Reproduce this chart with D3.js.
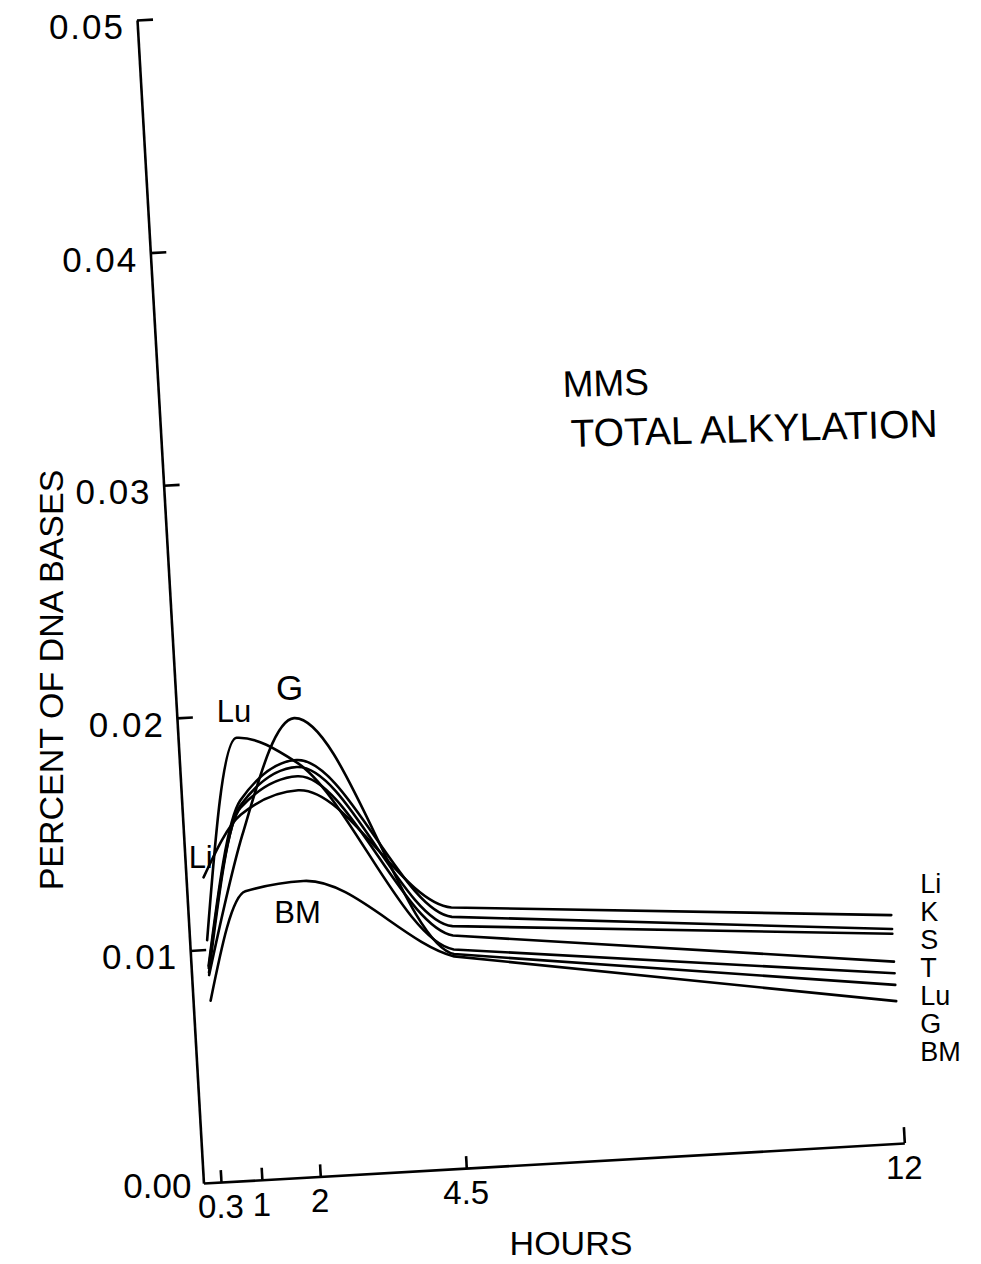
<!DOCTYPE html>
<html><head><meta charset="utf-8">
<script src="https://cdn.jsdelivr.net/npm/d3@7"></script>
<style>body{margin:0;background:#fff}svg{display:block}</style>
</head><body><svg id="c" width="981" height="1264"></svg>
<script>
// ---- data (percent of DNA bases vs hours) ----
const hours = [0.3, 1, 2, 4.5, 12];
const Li = [0.0131, 0.0157, 0.0166, 0.0112, 0.0098];
const K  = [0.0093, 0.0163, 0.0179, 0.0108, 0.0092];
const S  = [0.0090, 0.0161, 0.0176, 0.0104, 0.0090];
const T  = [0.0092, 0.0160, 0.0172, 0.0100, 0.0078];
const Lu = [0.0104, 0.0190, 0.0178, 0.0094, 0.0073];
const G  = [0.0089, 0.0148, 0.0197, 0.0092, 0.0068];
const BM = [0.0078, 0.0124, 0.0127, 0.0091, 0.0061];
const seriesNames = ["Li", "K", "S", "T", "Lu", "G", "BM"];
const seriesValues = [Li, K, S, T, Lu, G, BM];
const xTickValues = [0.3, 1, 2, 4.5, 12];
const xTickLabels = ["0.3", "1", "2", "4.5", "12"];
const yTickValues = [0, 0.01, 0.02, 0.03, 0.04, 0.05];
const yTickLabels = ["0.00", "0.01", "0.02", "0.03", "0.04", "0.05"];
const title1 = "MMS";
const title2 = "TOTAL ALKYLATION";
const xTitle = "HOURS";
const yTitle = "PERCENT OF DNA BASES";
// in-plot curve labels: [name, hours, value]
const curveLabels = [["Lu", 0.97, 0.0197], ["G", 1.94, 0.0205], ["Li", 0.26, 0.0135], ["BM", 1.86, 0.0109]];

// ---- layout ----
const W = 702, H = 1165;
const ang = 3.27 * Math.PI / 180;
const cs = Math.cos(ang), sn = Math.sin(ang);
const ox = 137, oy = 20;
const font = "'Liberation Sans', Arial, sans-serif";
function toScreen(px, py) { return [cs * px + sn * py + ox, -sn * px + cs * py + oy]; }

const svg = d3.select("#c");
svg.append("rect").attr("width", 981).attr("height", 1264).attr("fill", "#fff");

const x = d3.scaleLinear().domain([0, 12]).range([0, W]);
const y = d3.scaleLinear().domain([0, 0.05]).range([H, 0]);

const g = svg.append("g")
  .attr("transform", `matrix(${cs},${-sn},${sn},${cs},${ox},${oy})`);

// axes
const yAxis = d3.axisLeft(y).tickValues(yTickValues.filter(v => v > 0))
  .tickSize(-16).tickSizeOuter(0).tickFormat("");
const yg = g.append("g").call(yAxis);
const xAxis = d3.axisBottom(x).tickValues(xTickValues)
  .tickSize(-12).tickSizeOuter(0).tickFormat("");
const xg = g.append("g").attr("transform", `translate(0,${H})`).call(xAxis);
[yg, xg].forEach(a => {
  a.selectAll("path.domain").attr("stroke", "#000").attr("stroke-width", 2.6);
  a.selectAll(".tick line").attr("stroke", "#000").attr("stroke-width", 2.6);
});
xg.selectAll(".tick line").filter(d => d === 12).attr("y2", -16);

// curves: monotone smoothing through all samples, straight final leg to 12 h
const smooth = d3.line().x(d => x(d[0])).y(d => y(d[1])).curve(d3.curveMonotoneX);
function seriesPath(vals) {
  const pts = hours.map((h, i) => [h, vals[i]]);
  const segs = smooth(pts).split("C");
  segs.pop();
  const last = pts[pts.length - 1];
  return segs.join("C") + `L${x(last[0])},${y(last[1])}`;
}
g.selectAll("path.series").data(seriesValues).join("path")
  .attr("class", "series")
  .attr("d", seriesPath)
  .attr("fill", "none").attr("stroke", "#000").attr("stroke-width", 2.6)
  .attr("stroke-linejoin", "round").attr("stroke-linecap", "round");

// ---- text (upright, positioned via the rotated frame) ----
const txt = svg.append("g").attr("font-family", font).attr("fill", "#000");

yTickValues.forEach((v, i) => {
  const [sx, sy] = toScreen(0, y(v));
  txt.append("text").attr("x", sx - 12).attr("y", sy + (v === 0 ? 15 : 19))
    .attr("text-anchor", "end").attr("font-size", 35).attr("letter-spacing", v === 0 ? 0 : 2)
    .text(yTickLabels[i]);
});
xTickValues.forEach((v, i) => {
  const [sx, sy] = toScreen(x(v), H);
  txt.append("text").attr("x", sx).attr("y", sy + 36)
    .attr("text-anchor", "middle").attr("font-size", 33)
    .text(xTickLabels[i]);
});

// x title
txt.append("text").attr("x", 571).attr("y", 1255)
  .attr("text-anchor", "middle").attr("font-size", 34).text(xTitle);
// y title
txt.append("text").attr("transform", "translate(63,680) rotate(-90)")
  .attr("text-anchor", "middle").attr("font-size", 34).text(yTitle);

// chart title block
txt.append("text").attr("transform", "translate(563,397) rotate(-1.6)")
  .attr("font-size", 37).text(title1);
txt.append("text").attr("transform", "translate(571,447) rotate(-1.6)")
  .attr("font-size", 39).text(title2);

// in-plot curve labels
curveLabels.forEach(([name, h, v]) => {
  const [sx, sy] = toScreen(x(h), y(v));
  txt.append("text").attr("x", sx).attr("y", sy)
    .attr("text-anchor", "middle").attr("font-size", name === "G" ? 35 : 31).text(name);
});

// right-hand stacked labels
{
  const [ex] = toScreen(x(12), y(0.0098));
  seriesNames.forEach((n, i) => {
    txt.append("text").attr("x", ex + 29).attr("y", 893 + i * 28)
      .attr("font-size", 27).text(n);
  });
}
</script>
</body></html>
